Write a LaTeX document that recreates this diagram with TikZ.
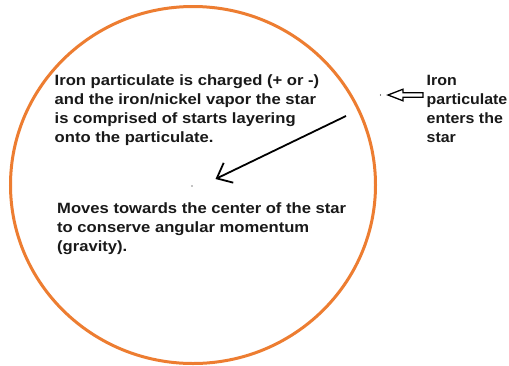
\documentclass[tikz,border=0pt]{standalone}
\usepackage{fontspec}
\setmainfont{Liberation Sans}[FakeStretch=1.115]
\newfontfamily\narrowsans{Liberation Sans}[FakeStretch=1.07]
\usetikzlibrary{arrows.meta}
\definecolor{starorange}{RGB}{237,125,49}
\begin{document}
\begin{tikzpicture}[x=1pt,y=-1pt,
  lbl/.style={inner sep=0pt,anchor=base west,align=left,font=\fontsize{14.9}{18.9}\selectfont\bfseries,text=black!90},
  dotmark/.style={circle,fill=black,inner sep=0pt,minimum size=1.3pt}]
\useasboundingbox (0,0) rectangle (509,365);
\fill[white] (0,0) rectangle (509,365);
\draw[starorange,line width=3pt] (193,185) ellipse [x radius=182.5, y radius=178.5];
\node[lbl] (t1) at (54.5,142.4) {Iron particulate is charged (+ or -)\\and the iron/nickel vapor the star\\is comprised of starts layering\\onto the particulate.};
\node[lbl] (t2) at (57,251.5) {Moves towards the center of the star\\to conserve angular momentum\\(gravity).};
\node[lbl,font=\narrowsans\fontsize{14.9}{18.9}\selectfont\bfseries] (t3) at (426.5,142.4) {Iron\\particulate\\enters the\\star};
\node[dotmark] (d1) at (380.5,95) {};
\node[dotmark] (d2) at (192,186) {};
\coordinate (a0) at (346,116);
\coordinate (a1) at (215.5,179);
\draw[line width=1.8pt,-{Straight Barb[length=13pt,width=22pt,line width=1.8pt]}] (a0) -- (a1);
\draw[line width=1.3pt,line join=miter] (423,92.8) -- (403,92.8) -- (403,89.2) -- (388,95) -- (403,100.8) -- (403,97.2) -- (423,97.2) -- cycle;
\end{tikzpicture}
\end{document}
